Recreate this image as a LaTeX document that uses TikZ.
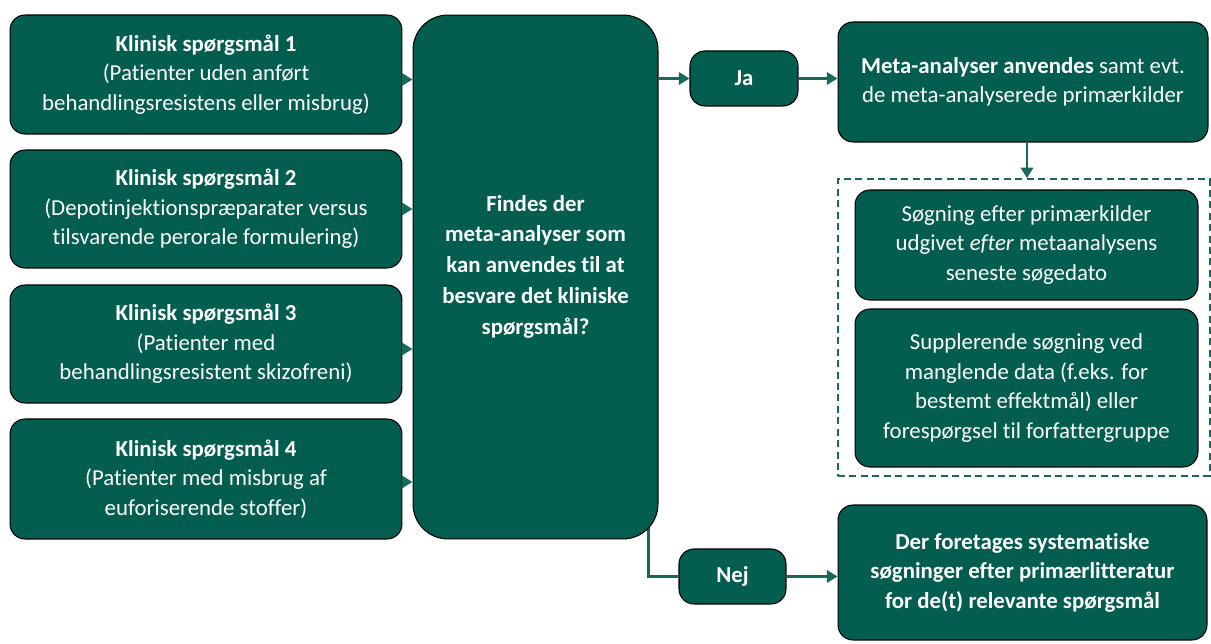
\documentclass[tikz,border=0pt]{standalone}
\usepackage{fontspec}
\setmainfont{Carlito}[Ligatures=NoCommon]
\usetikzlibrary{arrows.meta,backgrounds}
\definecolor{boxgreen}{HTML}{045E4F}
\definecolor{linkgreen}{HTML}{17695C}
\tikzset{
  box/.style={draw=black, line width=0.6pt, fill=boxgreen, text=white,
    rounded corners=0.3cm, align=center, inner sep=0pt,
    font=\fontsize{13}{16.8}\selectfont},
  link/.style={draw=linkgreen, line width=1.3pt},
  arr/.style={link, -{Triangle[length=6pt,width=7pt]}},
}
\begin{document}
\begin{tikzpicture}[x=0.02cm,y=-0.02cm]
\useasboundingbox (0,0) rectangle (1211,644);
\node[box, minimum width=7.84cm, minimum height=2.38cm] (q1) at (206,74.5)
  {\textbf{Klinisk spørgsmål 1}\\(Patienter uden anført\\behandlingsresistens eller misbrug)};
\node[box, minimum width=7.84cm, minimum height=2.36cm] (q2) at (206,209)
  {\textbf{Klinisk spørgsmål 2}\\(Depotinjektionspræparater versus\\tilsvarende perorale formulering)};
\node[box, minimum width=7.84cm, minimum height=2.36cm] (q3) at (206,344)
  {\textbf{Klinisk spørgsmål 3}\\(Patienter med\\behandlingsresistent skizofreni)};
\node[box, minimum width=7.84cm, minimum height=2.4cm] (q4) at (206,479)
  {\textbf{Klinisk spørgsmål 4}\\(Patienter med misbrug af\\euforiserende stoffer)};
\node[box, rounded corners=0.7cm, minimum width=4.9cm, minimum height=10.48cm,
  text depth=0.5cm, font=\fontsize{13}{17.5}\selectfont\bfseries] (fnd) at (535.5,277)
  {Findes der\\meta-analyser som\\kan anvendes til at\\besvare det kliniske\\spørgsmål?};
\node[box, minimum width=2.16cm, minimum height=1.1cm, font=\fontsize{13}{16.8}\selectfont\bfseries] (ja) at (744,78.5) {Ja};
\node[box, minimum width=7.4cm, minimum height=2.4cm] (meta) at (1023,82)
  {\textbf{Meta-analyser anvendes} samt evt.\\de meta-analyserede primærkilder};
\node[draw=linkgreen, line width=1pt, dash pattern=on 4pt off 2.5pt,
  minimum width=7.44cm, minimum height=5.94cm] (srch) at (1024,327.5) {};
\node[box, minimum width=6.86cm, minimum height=2.2cm] (prim) at (1026.5,245)
  {Søgning efter primærkilder\\udgivet \textit{efter} metaanalysens\\seneste søgedato};
\node[box, minimum width=6.86cm, minimum height=3.16cm] (supp) at (1026.5,388)
  {Supplerende søgning ved\\manglende data (f.eks. for\\bestemt effektmål) eller\\forespørgsel til forfattergruppe};
\node[box, minimum width=2.14cm, minimum height=1.1cm, font=\fontsize{13}{16.8}\selectfont\bfseries] (nej) at (732.5,576.5) {Nej};
\node[box, minimum width=7.38cm, minimum height=2.7cm, font=\fontsize{13}{16.8}\selectfont\bfseries] (sys) at (1022.5,572.5)
  {Der foretages systematiske\\søgninger efter primærlitteratur\\for de(t) relevante spørgsmål};
\draw[arr] ([yshift=-0.1cm]q1.east) -- ([yshift=-0.1cm]q1.east -| fnd.west);
\draw[arr] (q2) -- (q2 -| fnd.west);
\draw[arr] ([yshift=-0.1cm]q3.east) -- ([yshift=-0.1cm]q3.east -| fnd.west);
\draw[arr] ([yshift=-0.06cm]q4.east) -- ([yshift=-0.06cm]q4.east -| fnd.west);
\draw[arr] (fnd.east |- ja) -- (ja);
\draw[arr] (ja) -- (ja -| meta.west);
\draw[arr] ([xshift=0.08cm]meta.south) -- ([xshift=0.08cm]meta.south |- srch.north);
\begin{scope}[on background layer]
\draw[link] ([xshift=-0.2cm,yshift=0.4cm]fnd.south east) |- (nej.west);
\end{scope}
\draw[arr] (nej) -- (nej -| sys.west);
\end{tikzpicture}
\end{document}
